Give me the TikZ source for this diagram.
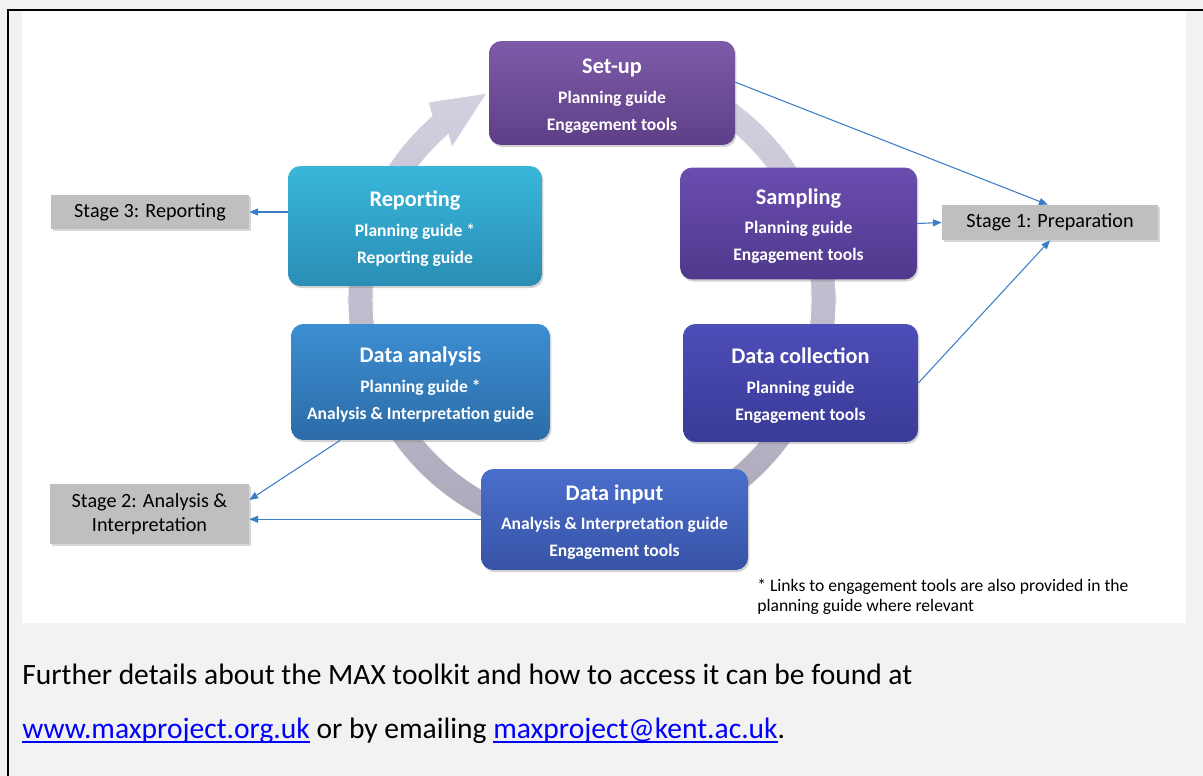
\documentclass[tikz,border=0pt]{standalone}
\usepackage{fontspec}
\setmainfont{Carlito}
\definecolor{pagegray}{HTML}{F2F2F2}
\definecolor{stagegray}{HTML}{BFBFBF}
\definecolor{linkblue}{HTML}{3A7DC9}
\definecolor{webblue}{HTML}{0000FF}
\definecolor{ringlight}{HTML}{D6D2E2}
\definecolor{ringdark}{HTML}{A9A4B7}
\definecolor{setuptop}{HTML}{7E5BA8}
\definecolor{setupbot}{HTML}{5E3F87}
\definecolor{samplingtop}{HTML}{6A4DB0}
\definecolor{samplingbot}{HTML}{4F398C}
\definecolor{collecttop}{HTML}{4D4DB8}
\definecolor{collectbot}{HTML}{3A3A97}
\definecolor{inputtop}{HTML}{4A6ECC}
\definecolor{inputbot}{HTML}{3753A6}
\definecolor{analysistop}{HTML}{3C8ED2}
\definecolor{analysisbot}{HTML}{2C6CA8}
\definecolor{reporttop}{HTML}{39B7DB}
\definecolor{reportbot}{HTML}{2A8DB5}
\usepackage{tikz}
\usetikzlibrary{arrows.meta, shadows, positioning, calc}
\newcommand{\feeds}[2]
{
	\draw[stagelink] (#1) -- (#2)
}
\newcommand{\linktext}[1]{\setbox0=\hbox{#1}\textcolor{webblue}{\rlap{\rule[-2.6pt]{\wd0}{1.1pt}}\box0}}
\newcommand{\phasename}[1]{{\fontsize{12.7}{15}\selectfont\rule{0pt}{12pt}#1}\\[1.6pt]}

\begin{document}
\begin{tikzpicture}[x=0.02cm, y=-0.02cm,
every node/.append style={inner sep=0pt},
phase/.style={shape=rectangle, rounded corners=7pt, text=white, align=center,
	font=\bfseries\fontsize{10}{15.3}\selectfont,
	drop shadow={opacity=0.35, shadow xshift=0.8pt, shadow yshift=-1.2pt}},
stagebox/.style={shape=rectangle, fill=stagegray, align=center,
	font=\fontsize{11.5}{13.5}\selectfont,
	drop shadow={opacity=0.3, shadow xshift=1pt, shadow yshift=-1pt}},
stagelink/.style={draw=linkblue, line width=0.6pt, -{Triangle[length=5pt, width=4pt]}}]

\useasboundingbox (0,0) rectangle (1203,776);
\fill[pagegray] (0,0) rectangle (1203,776);
\fill[white] (22,11) rectangle (1186,623);
\draw[line width=1.2pt] (8,776) -- (8,10) -- (1203,10);

% cycle ring behind the phases
\begin{scope}[shift={(592,300)}]
\fill[top color=ringlight, bottom color=ringdark, draw=white, line width=0.6pt]
	(-75:244) arc[start angle=-75, end angle=229, radius=244]
	-- (230.4:257) -- (243.1:232) -- (227.4:207) -- (229:219)
	arc[start angle=229, end angle=-75, radius=219] -- cycle;
\end{scope}

\node[phase, minimum width=4.92cm, minimum height=2.08cm, top color=setuptop, bottom color=setupbot] at (612, 93) (setup){\phasename{Set-up}Planning guide\\Engagement tools};
\node[phase, minimum width=4.74cm, minimum height=2.24cm, top color=samplingtop, bottom color=samplingbot] at (798.5, 223.5) (sampling){\phasename{Sampling}Planning guide\\Engagement tools};
\node[phase, minimum width=4.70cm, minimum height=2.36cm, top color=collecttop, bottom color=collectbot] at (800.5, 383) (collection){\phasename{Data collection}Planning guide\\Engagement tools};
\node[phase, minimum width=5.34cm, minimum height=2.02cm, top color=inputtop, bottom color=inputbot] at (614.5, 519.5) (input){\phasename{Data input}Analysis \& Interpretation guide\\Engagement tools};
\node[phase, minimum width=5.18cm, minimum height=2.32cm, top color=analysistop, bottom color=analysisbot] at (420.5, 382) (analysis){\phasename{Data analysis}Planning guide *\\Analysis \& Interpretation guide};
\node[phase, minimum width=5.08cm, minimum height=2.40cm, top color=reporttop, bottom color=reportbot] at (415, 226) (reporting){\phasename{Reporting}Planning guide *\\Reporting guide};

\node[stagebox, minimum width=4.32cm, minimum height=0.70cm] at (1050, 222.5) (stage1){Stage 1: Preparation};
\node[stagebox, minimum width=3.98cm, minimum height=1.20cm] at (149.5, 514) (stage2){Stage 2: Analysis \&\\Interpretation};
\node[stagebox, minimum width=3.96cm, minimum height=0.68cm] at (150, 212) (stage3){Stage 3: Reporting};

\feeds{setup.5}{stage1.97};
\feeds{sampling.east}{stage1.west};
\feeds{collection.east}{stage1.south};
\feeds{reporting.west |- stage3.east}{stage3.east};
\feeds{analysis.216}{stage2.8};
\feeds{input.west |- stage2.-3}{stage2.-3};

\node[anchor=base west, align=left, font=\fontsize{10}{11.3}\selectfont] at (757, 611) (note){* Links to engagement tools are also provided in the\\planning guide where relevant};

\node[anchor=base west, font=\fontsize{16.8}{19}\selectfont] at (22, 684) (further){Further details about the MAX toolkit and how to access it can be found at};
\node[anchor=base west, font=\fontsize{16.8}{19}\selectfont] at (22, 738) (contact){\linktext{www.maxproject.org.uk} or by emailing \linktext{maxproject@kent.ac.uk}.};
\end{tikzpicture}
\end{document}
